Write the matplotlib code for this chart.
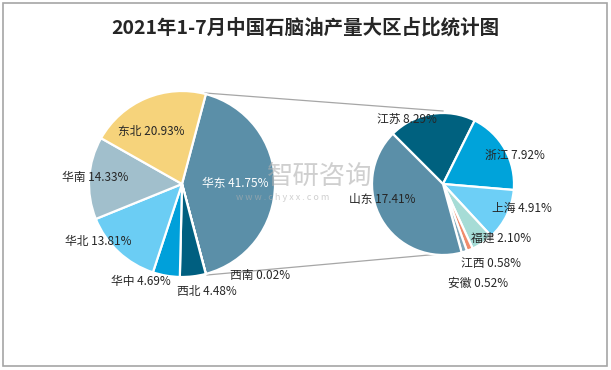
import matplotlib
matplotlib.use('Agg')
import matplotlib.pyplot as plt
from matplotlib.patches import Rectangle

plt.rcParams['font.family'] = ['Noto Sans CJK SC', 'DejaVu Sans']

# main pie: regions
regions = ['华东', '西南', '西北', '华中', '华北', '华南', '东北']
region_share = [41.75, 0.02, 4.48, 4.69, 13.81, 14.33, 20.93]
region_colors = ['#5b8fa8', '#8fb3c4', '#005f80', '#00a0da', '#6bcdf4', '#a1bfcc', '#f6d37b']

# secondary pie: provinces of 华东
provinces = ['江苏', '浙江', '上海', '福建', '江西', '安徽', '山东']
province_share = [8.29, 7.92, 4.91, 2.10, 0.58, 0.52, 17.41]
province_colors = ['#00617f', '#00a3da', '#6dcff6', '#a6dcd6', '#f08c6c', '#7fa6b9', '#5b8fa8']

title = '2021年1-7月中国石脑油产量大区占比统计图'

# layout in pixels (y from top)
H = 370
left_c, left_r = (182, 184), 93
right_c, right_r = (443, 184), 71
left_label_xy = [(235, 184), (260, 276), (207, 292), (141, 282), (98, 241), (95, 178), (151, 132)]
right_label_xy = [(407, 119), (515, 155), (522, 208), (501, 238), (491, 264), (478, 283), (382, 199)]


def main():
    fig = plt.figure(figsize=(6.11, 3.70), dpi=100)
    ax = fig.add_axes([0, 0, 1, 1])

    wp = dict(edgecolor='white', linewidth=1.6)
    start_left = region_share[0] / 100 * 180
    ax.pie(region_share, colors=region_colors, startangle=start_left, counterclock=False,
           center=(left_c[0], H - left_c[1]), radius=left_r, wedgeprops=wp)
    ax.pie(province_share, colors=province_colors, startangle=135, counterclock=False,
           center=(right_c[0], H - right_c[1]), radius=right_r, wedgeprops=wp)

    # connector lines
    ax.plot([205, 443], [H - 93, H - 111], color='#a6a6a6', lw=0.9, zorder=0)
    ax.plot([207, 440], [H - 275, H - 254], color='#a6a6a6', lw=0.9, zorder=0)

    for name, v, (x, y) in zip(regions, region_share, left_label_xy):
        c = 'white' if name == '华东' else '#262626'
        ax.text(x, H - y, f'{name} {v:.2f}%', ha='center', va='center', fontsize=8.5, color=c, zorder=5)
    for name, v, (x, y) in zip(provinces, province_share, right_label_xy):
        ax.text(x, H - y, f'{name} {v:.2f}%', ha='center', va='center', fontsize=8.5, color='#262626', zorder=5)

    # watermark
    ax.text(320, H - 176, '智研咨询', ha='center', va='center', fontsize=19, color='#b0b0b0', alpha=0.6, zorder=4)
    ax.text(283, H - 198, 'w w w . c h y x x . c o m', ha='center', va='center', fontsize=6.5,
            color='#b0b0b0', alpha=0.6, zorder=4)

    ax.text(305, H - 28, title, ha='center', va='center', fontsize=14, fontweight='bold', color='#262626')

    ax.add_patch(Rectangle((2.5, H - 365.5), 604.5, 362.5, fill=False, edgecolor='#a6a6a6', lw=1.2))

    ax.set_xlim(0, 611)
    ax.set_ylim(0, H)
    ax.set_aspect('auto')
    ax.axis('off')
    fig.savefig('out.png', dpi=100)


if __name__ == '__main__':
    main()
